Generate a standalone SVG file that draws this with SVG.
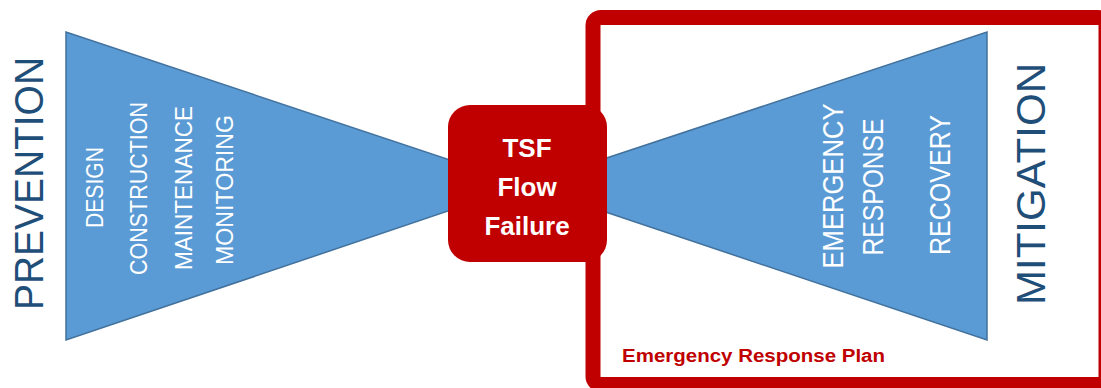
<svg xmlns="http://www.w3.org/2000/svg" width="1101" height="388" viewBox="0 0 1101 388">
<style>
.tri{fill:#5B9BD5;stroke:#41719C;stroke-width:1.5}
.big{font-family:"Liberation Sans",Arial,sans-serif;fill:#1F4E79;font-size:40px}
.lbl{font-family:"Liberation Sans",Arial,sans-serif;fill:#FFFFFF;text-anchor:middle}
.box{font-family:"Liberation Sans",Arial,sans-serif;fill:#FFFFFF;font-weight:bold;font-size:26px;text-anchor:middle}
</style>
<rect width="1101" height="388" fill="#FFFFFF"/>
<g id="erp-frame">
<rect x="593" y="17.5" width="513" height="367" rx="8" fill="none" stroke="#C00000" stroke-width="15"/>
<text x="622" y="362" font-family="Liberation Sans,Arial,sans-serif" font-weight="bold" font-size="18" fill="#C00000" textLength="263" lengthAdjust="spacingAndGlyphs">Emergency Response Plan</text>
</g>
<g id="prevention">
<polygon class="tri" points="66,32 66,340 525,185"/>
<text class="big" text-anchor="middle" transform="translate(43,183.5) rotate(-90)" textLength="253" lengthAdjust="spacingAndGlyphs">PREVENTION</text>
<text class="lbl" font-size="24" transform="translate(103,187.5) rotate(-90)" textLength="81" lengthAdjust="spacingAndGlyphs">DESIGN</text>
<text class="lbl" font-size="24" transform="translate(147,188.5) rotate(-90)" textLength="173" lengthAdjust="spacingAndGlyphs">CONSTRUCTION</text>
<text class="lbl" font-size="24" transform="translate(192,188) rotate(-90)" textLength="164" lengthAdjust="spacingAndGlyphs">MAINTENANCE</text>
<text class="lbl" font-size="24" transform="translate(233,190) rotate(-90)" textLength="150" lengthAdjust="spacingAndGlyphs">MONITORING</text>
</g>
<g id="mitigation">
<polygon class="tri" points="987,32 987,340 525,185"/>
<text class="lbl" font-size="29" transform="translate(843,186) rotate(-90)" textLength="165" lengthAdjust="spacingAndGlyphs">EMERGENCY</text>
<text class="lbl" font-size="29" transform="translate(883,187) rotate(-90)" textLength="137" lengthAdjust="spacingAndGlyphs">RESPONSE</text>
<text class="lbl" font-size="29" transform="translate(950,185) rotate(-90)" textLength="140" lengthAdjust="spacingAndGlyphs">RECOVERY</text>
<text class="big" font-size="43" text-anchor="middle" transform="translate(1045,184) rotate(-90)" textLength="242" lengthAdjust="spacingAndGlyphs">MITIGATION</text>
</g>
<g id="tsf-flow-failure">
<rect x="448" y="105" width="159" height="157" rx="22" fill="#C00000"/>
<text class="box" x="527" y="157">TSF</text>
<text class="box" x="527" y="196">Flow</text>
<text class="box" x="527" y="235">Failure</text>
</g>
</svg>
